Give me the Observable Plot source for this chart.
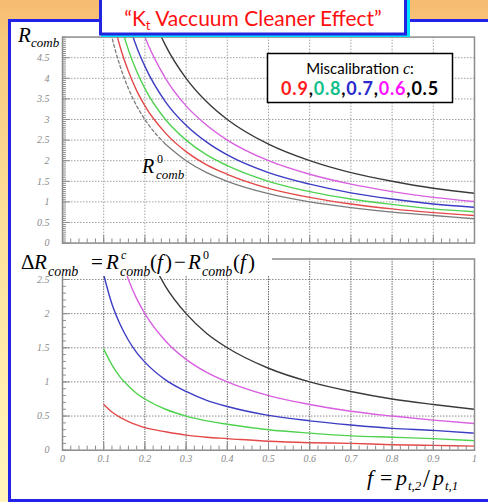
<!DOCTYPE html>
<html>
<head>
<meta charset="utf-8">
<script src="https://cdn.jsdelivr.net/npm/d3@7"></script>
<script src="https://cdn.jsdelivr.net/npm/@observablehq/plot@0.6"></script>
<style>
html,body{margin:0;padding:0}
body{position:relative;width:488px;height:502px;overflow:hidden;
 background:linear-gradient(180deg,#F6BC70 0px,#F8C87E 40px,#FCDD96 200px,#FFEDAE 380px,#FFF5BC 502px);}
#panel{position:absolute;left:8px;top:19px;width:500px;height:483px;box-sizing:border-box;background:#fff;border:3px solid #2222E8;}
#top,#bot,#over{position:absolute;left:0}
#top{top:0}
#bot{top:250px}
#over{top:0;pointer-events:none}
</style>
</head>
<body>
<div id="panel"></div>
<div id="top"></div>
<div id="bot"></div>
<svg id="over" width="488" height="502"></svg>
<script>
// ---- data ----
const fVals = [0.1,0.12,0.14,0.16,0.18,0.2,0.25,0.3,0.35,0.4,0.5,0.6,0.7,0.8,0.9,1.0];
// upper panel: R_comb
const rComb0  = [6.0,5.0,4.29,3.75,3.33,3.0,2.4,2.0,1.71,1.5,1.2,1.0,0.86,0.75,0.67,0.59];
const rComb09 = [6.67,5.56,4.76,4.17,3.7,3.33,2.67,2.22,1.9,1.67,1.33,1.11,0.95,0.83,0.74,0.67];
const rComb08 = [7.5,6.25,5.36,4.69,4.17,3.75,3.0,2.5,2.14,1.88,1.5,1.25,1.07,0.94,0.83,0.76];
const rComb07 = [8.57,7.14,6.12,5.36,4.76,4.29,3.43,2.86,2.45,2.14,1.71,1.43,1.22,1.07,0.95,0.87];
const rComb06 = [10,8.33,7.14,6.25,5.56,5.0,4.0,3.33,2.86,2.5,2.0,1.67,1.43,1.25,1.11,1.01];
const rComb05 = [12,10,8.57,7.5,6.67,6.0,4.8,4.0,3.43,3.0,2.4,2.0,1.71,1.5,1.33,1.21];
// lower panel: Delta R_comb
const dR09 = [0.67,0.56,0.48,0.42,0.37,0.33,0.27,0.22,0.19,0.17,0.13,0.11,0.1,0.08,0.07,0.06];
const dR08 = [1.48,1.25,1.07,0.94,0.83,0.75,0.6,0.5,0.43,0.38,0.3,0.25,0.21,0.19,0.17,0.14];
const dR07 = [2.57,2.14,1.84,1.61,1.43,1.29,1.03,0.86,0.73,0.64,0.51,0.43,0.37,0.32,0.29,0.25];
const dR06 = [4.0,3.33,2.86,2.5,2.22,2.0,1.6,1.33,1.14,1.0,0.8,0.67,0.57,0.5,0.44,0.39];
const dR05 = [6.0,5.0,4.29,3.75,3.33,3.0,2.4,2.0,1.71,1.5,1.2,1.0,0.86,0.75,0.67,0.6];

const seriesNames = ["0.9","0.8","0.7","0.6","0.5"];
const lineColors  = ["#e44848","#4fd24f","#3c3cc4","#d860e0","#3a3a3a"];
const legendColors= ["#ff1a1a","#10c08a","#2a2acc","#ff10ff","#000000"];
const refColor = "#7c7c7c";

const xTickVals = [0,0.1,0.2,0.3,0.4,0.5,0.6,0.7,0.8,0.9,1];
const xTickLabels = ["0","0.1","0.2","0.3","0.4","0.5","0.6","0.7","0.8","0.9","1"];
const yTopVals = [0,0.5,1,1.5,2,2.5,3,3.5,4,4.5];
const yTopLabels = ["0","0.5","1","1.5","2","2.5","3","3.5","4","4.5"];
const yBotVals = [0,0.5,1,1.5,2,2.5];
const yBotLabels = ["0","0.5","1","1.5","2","2.5"];

const titleText = "Vaccuum Cleaner Effect";
const legendTitle = "Miscalibration ";

// ---- helpers ----
const rows = vals => fVals.map((f,i)=>({f, v: vals[i]}));
const fmt = (vals, labels) => { const m = new Map(vals.map((v,i)=>[v, labels[i]])); return d => m.get(d); };
const minorXs = d3.range(0, 1.0001, 0.02);
const gridCol = "#a0a0a0";
const axCol = "#8c8c8c";
const serif = "'Liberation Serif','DejaVu Serif',serif";
const sans = "Lato,'Open Sans',sans-serif";
const commonStyle = {background:"transparent", overflow:"visible", fontFamily:serif, fontStyle:"italic", fontSize:"10px"};
const axText = {tickSize:0, color:"#8a8a8a", fontSize:10, fontFamily:serif, fontStyle:"italic", label:null};

// ---- top panel ----
const topSeries = [rComb09, rComb08, rComb07, rComb06, rComb05];
const refRows = rows(rComb0);
const topPlot = Plot.plot({
  width: 488, height: 250,
  marginTop: 36.6, marginBottom: 7.4, marginLeft: 62, marginRight: 14,
  x: {domain:[0,1], axis:null},
  y: {domain:[0,5]},
  style: commonStyle,
  marks: [
    Plot.ruleY(yTopVals.slice(1), {stroke:gridCol, strokeDasharray:"1.5,1.5"}),
    Plot.ruleX(xTickVals.slice(1,10), {stroke:gridCol, strokeDasharray:"1.5,1.5"}),
    Plot.line(refRows.filter(d=>d.f<=0.25), {x:"f", y:"v", stroke:refColor, strokeWidth:1.3, strokeDasharray:"3,2.5", curve:"monotone-x", clip:true}),
    Plot.line(refRows.filter(d=>d.f>=0.25), {x:"f", y:"v", stroke:refColor, strokeWidth:1.3, curve:"monotone-x", clip:true}),
    ...topSeries.map((s,k)=>Plot.line(rows(s), {x:"f", y:"v", stroke:lineColors[k], strokeWidth:1.4, curve:"monotone-x", clip:true})),
    Plot.ruleY(d3.range(0,5.0001,0.05), {x1:0, x2:0.0095, stroke:axCol}),
    Plot.ruleY(yTopVals, {x1:0, x2:0.019, stroke:axCol}),
    Plot.ruleX(minorXs, {y1:0, y2:0.1, stroke:axCol}),
    Plot.ruleX(xTickVals, {y1:0, y2:0.19, stroke:axCol}),
    Plot.frame({stroke:axCol, strokeWidth:1.5}),
    Plot.axisY(yTopVals, {...axText, tickPadding:13, tickFormat: fmt(yTopVals, yTopLabels)})
  ]
});
document.getElementById("top").appendChild(topPlot);

// ---- bottom panel ----
const botSeries = [dR09, dR08, dR07, dR06, dR05];
const botPlot = Plot.plot({
  width: 488, height: 250,
  marginTop: 8.5, marginBottom: 50.3, marginLeft: 62, marginRight: 14,
  x: {domain:[0,1]},
  y: {domain:[0,2.8]},
  style: commonStyle,
  marks: [
    Plot.ruleY(yBotVals.slice(1), {stroke:"#8a8a8a", strokeDasharray:"1.5,1.5"}),
    Plot.ruleX(xTickVals.slice(1,10), {stroke:"#6a6a6a", strokeDasharray:"1.5,1"}),
    ...botSeries.map((s,k)=>Plot.line(rows(s), {x:"f", y:"v", stroke:lineColors[k], strokeWidth:1.4, curve:"monotone-x", clip:true})),
    Plot.ruleY(d3.range(0,2.8001,0.1), {x1:0, x2:0.0095, stroke:axCol}),
    Plot.ruleY(yBotVals, {x1:0, x2:0.019, stroke:axCol}),
    Plot.ruleX(minorXs, {y1:0, y2:0.06, stroke:axCol}),
    Plot.ruleX(xTickVals, {y1:0, y2:0.115, stroke:axCol}),
    Plot.frame({stroke:axCol, strokeWidth:1.5}),
    Plot.axisY(yBotVals, {...axText, tickPadding:13, tickFormat: fmt(yBotVals, yBotLabels)}),
    Plot.axisX(xTickVals, {...axText, tickPadding:5, tickFormat: fmt(xTickVals, xTickLabels)})
  ]
});
document.getElementById("bot").appendChild(botPlot);

// ---- overlay texts and boxes ----
const svg = d3.select("#over");
// parts: [text, x, y, size, italic]
function formula(parts, fill) {
  const t = svg.append("text").attr("font-family", serif).attr("fill", fill || "#000");
  parts.forEach(([s, x, y, size, it]) => {
    t.append("tspan").attr("x", x).attr("y", y).attr("font-size", size)
      .attr("font-style", it ? "italic" : "normal").text(s);
  });
  return t;
}

// title box
svg.append("rect").attr("x", 101).attr("y", -4).attr("width", 309).attr("height", 41).attr("fill", "#00e0ff");
svg.append("rect").attr("x", 100.5).attr("y", -4).attr("width", 305).attr("height", 38)
  .attr("fill", "#fff").attr("stroke", "#2424e0").attr("stroke-width", 3);
const tt = svg.append("text").attr("x", 253).attr("y", 25.5).attr("text-anchor", "middle")
  .attr("font-family", sans).attr("font-size", 21).attr("fill", "#ff1010");
tt.append("tspan").text("\u201CK");
tt.append("tspan").attr("font-size", 13).attr("dy", 4).text("t");
tt.append("tspan").attr("dy", -4).text(" " + titleText + "\u201D");

// R_comb axis title
formula([["R",18,42,21,true],["comb",31,47,13,true]]);

// R0 label
formula([["R",142,173,20,true],["0",157,163,12,false],["comb",156,179,13,true]]);

// legend box
svg.append("rect").attr("x", 267.5).attr("y", 53.5).attr("width", 185).attr("height", 49)
  .attr("fill", "#fff").attr("stroke", "#000").attr("stroke-width", 1.5);
const lt = svg.append("text").attr("x", 360).attr("y", 73.5).attr("text-anchor", "middle")
  .attr("font-family", sans).attr("font-size", 15);
lt.append("tspan").text(legendTitle);
lt.append("tspan").attr("font-family", serif).attr("font-style", "italic").attr("font-size", 16).text("c");
lt.append("tspan").text(":");
const lv = svg.append("text").attr("x", 360).attr("y", 95).attr("text-anchor", "middle")
  .attr("font-family", sans).attr("font-size", 18).attr("font-weight", "bold").attr("letter-spacing", 0.8);
seriesNames.forEach((n,k)=>{
  lv.append("tspan").attr("fill", legendColors[k]).text(n);
  if (k < seriesNames.length-1) lv.append("tspan").attr("fill", "#000").text(",");
});

// Delta R label
svg.append("rect").attr("x", 14).attr("y", 246).attr("width", 258).attr("height", 30).attr("fill", "#fff");
formula([
  ["\u0394",21,269,21,false],["R",34,269,21,true],["comb",48,276,14,true],
  ["=",91,269,21,false],
  ["R",106,269,21,true],["c",121,259,12,true],["comb",120,276,14,true],
  ["(",150,269,21,false],["f",157,269,21,true],[")",165,269,21,false],
  ["\u2212",174,269,21,false],
  ["R",188,269,21,true],["0",203,259,12,false],["comb",202,276,14,true],
  ["(",233,269,21,false],["f",240,269,21,true],[")",248,269,21,false]
]);

// f axis title
formula([
  ["f",367,485,22,true],["=",380,485,22,false],["p",396,485,22,true],["t,2",408,490,13,true],
  ["/",423,487,25,false],["p",433,485,22,true],["t,1",445,490,13,true]
]);
</script>
</body>
</html>
